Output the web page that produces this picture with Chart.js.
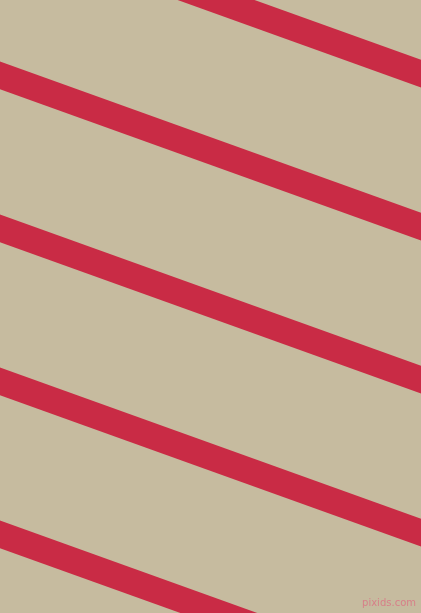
<!DOCTYPE html>
<html>
<head>
<meta charset="utf-8">
<script src="https://cdn.jsdelivr.net/npm/chart.js@4"></script>
<style>
  html, body { margin: 0; padding: 0; background: #c6bb9f; overflow: hidden; }
  .wrap { position: relative; width: 421px; height: 613px; }
  canvas { display: block; }
  .mark { position: absolute; right: 5px; bottom: 5px; font: 10px "DejaVu Sans", sans-serif; color: #d77f88; }
</style>
</head>
<body>
<div class="wrap">
  <canvas id="stripes" width="421" height="613"></canvas>
  <span class="mark">pixids.com</span>
</div>
<script>
// stripe centre lines, read a little past both edges so the ends get clipped off
const stripeNames = ['s1', 's2', 's3', 's4', 's5'];
const xEnds = [-40, 461];
const leftY = [-92, 61, 214, 367, 520];
const rightY = [88, 241, 394, 547, 700];

const stripeColor = '#c92b45';

const datasets = stripeNames.map((name, i) => ({
    label: name,
    data: [{ x: xEnds[0], y: leftY[i] }, { x: xEnds[1], y: rightY[i] }],
    borderColor: stripeColor,
    borderWidth: 26,
    pointRadius: 0,
    showLine: true,
    fill: false,
    clip: 0
}));

new Chart(document.getElementById('stripes'), {
    type: 'scatter',
    data: { datasets },
    options: {
        responsive: false,
        animation: false,
        devicePixelRatio: 1,
        layout: { padding: 0 },
        plugins: { legend: { display: false }, tooltip: { enabled: false } },
        scales: {
            x: { type: 'linear', min: 0, max: 421, display: false },
            y: { type: 'linear', min: 0, max: 613, reverse: true, display: false }
        }
    }
});
</script>
</body>
</html>
